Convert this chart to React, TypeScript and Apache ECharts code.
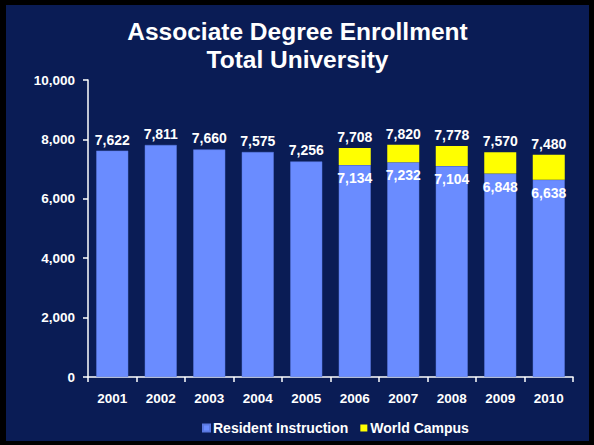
import React, { useEffect, useRef } from "react";
import * as echarts from "echarts";

const years = ["2001", "2002", "2003", "2004", "2005", "2006", "2007", "2008", "2009", "2010"];
const residentInstruction = [7622, 7811, 7660, 7575, 7256, 7134, 7232, 7104, 6848, 6638];
const worldCampus = [0, 0, 0, 0, 0, 574, 588, 674, 722, 842];
const yTicks = [0, 2000, 4000, 6000, 8000, 10000];

const fmt = (v: number) => v.toLocaleString("en-US");
const FONT = "Liberation Sans, Arial, sans-serif";

export default function App() {
  const ref = useRef<HTMLDivElement>(null);
  useEffect(() => {
    const chart = echarts.init(ref.current!, null, { renderer: "svg" });
    const labelStyle = { color: "#ffffff", fontWeight: "bold" as const, fontSize: 14, fontFamily: FONT };
    chart.setOption({
      animation: false,
      backgroundColor: "#0a1c55",
      title: {
        text: "Associate Degree Enrollment\nTotal University",
        left: "center",
        top: 7,
        padding: [5, 0, 5, 8],
        textStyle: { color: "#ffffff", fontSize: 24.5, fontWeight: "bold", fontFamily: FONT, lineHeight: 28 },
      },
      legend: {
        left: 191,
        top: 411,
        itemWidth: 7,
        itemHeight: 7,
        itemGap: 12,
        icon: "rect",
        textStyle: { color: "#ffffff", fontSize: 14, fontWeight: "bold", fontFamily: FONT, padding: [0, 0, 0, -2] },
        data: ["Resident Instruction", "World Campus"],
      },
      grid: { left: 82, right: 16, top: 75, bottom: 64 },
      xAxis: {
        type: "category",
        data: years,
        axisLine: { lineStyle: { color: "#ffffff", width: 1.5 } },
        axisTick: { show: true, alignWithLabel: false, length: 5, lineStyle: { color: "#ffffff", width: 1.5 } },
        axisLabel: { color: "#ffffff", fontSize: 13.5, fontWeight: "bold", fontFamily: FONT, margin: 14 },
      },
      yAxis: {
        type: "value",
        min: yTicks[0],
        max: yTicks[yTicks.length - 1],
        interval: 2000,
        axisLine: { show: true, lineStyle: { color: "#ffffff", width: 1.5 } },
        axisTick: { show: true, length: 5, lineStyle: { color: "#ffffff", width: 1.5 } },
        splitLine: { show: false },
        axisLabel: {
          color: "#ffffff",
          fontSize: 13.5,
          fontWeight: "bold",
          fontFamily: FONT,
          margin: 13,
          formatter: (v: number) => fmt(v),
        },
      },
      series: [
        {
          name: "Resident Instruction",
          type: "bar",
          stack: "total",
          barWidth: 32,
          itemStyle: { color: "#6a8cff", borderColor: "#5a78e0", borderWidth: 0.5 },
          data: residentInstruction.map((v, i) => ({
            value: v,
            label: {
              show: true,
              position: worldCampus[i] > 0 ? "insideTop" : "top",
              distance: worldCampus[i] > 0 ? 6 : 4,
              ...labelStyle,
              formatter: () => fmt(v),
            },
          })),
        },
        {
          name: "World Campus",
          type: "bar",
          stack: "total",
          barWidth: 32,
          itemStyle: { color: "#ffff00" },
          data: worldCampus.map((v, i) => ({
            value: v > 0 ? v : null,
            label: {
              show: v > 0,
              position: "top",
              distance: 4,
              ...labelStyle,
              formatter: () => fmt(residentInstruction[i] + v),
            },
          })),
        },
      ],
    });
    return () => chart.dispose();
  }, []);
  return (
    <div style={{ position: "fixed", left: 0, top: 0, width: 594, height: 445, background: "#000000" }}>
      <div ref={ref} style={{ position: "absolute", left: 6, top: 5, width: 583, height: 436 }} />
    </div>
  );
}
